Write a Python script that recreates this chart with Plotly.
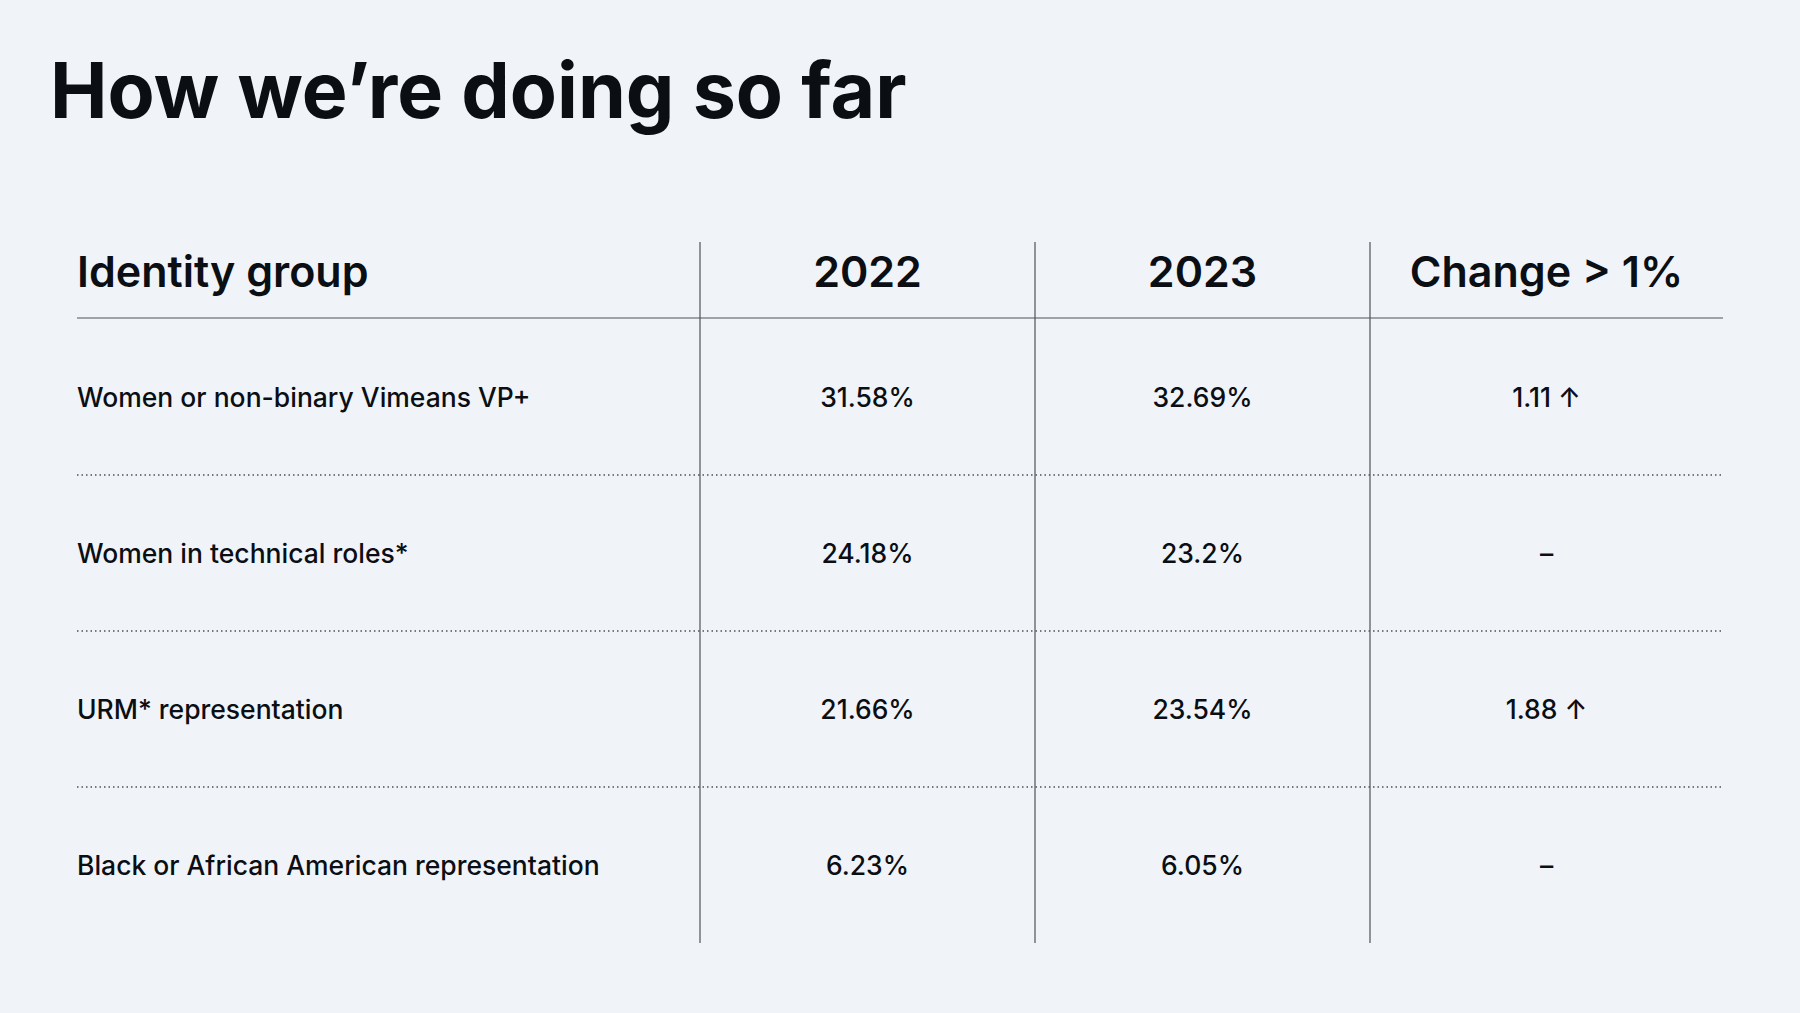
import plotly.graph_objects as go

# ---- data ----
title_text = "How we\u2019re doing so far"
header_labels = ["Identity group", "2022", "2023", "Change > 1%"]
identity_groups = [
    "Women or non-binary Vimeans VP+",
    "Women in technical roles*",
    "URM* representation",
    "Black or African American representation",
]
values_2022 = ["31.58%", "24.18%", "21.66%", "6.23%"]
values_2023 = ["32.69%", "23.2%", "23.54%", "6.05%"]
change_values = ["1.11 \u2191", "\u2013", "1.88 \u2191", "\u2013"]

# ---- layout / style ----
W, H = 1800, 1013
BG = "#f0f4f9"
INK = "#0b0e13"
RULE = "#4d5258"
FONT = "Inter"
col_edges = [77, 700, 1035, 1370, 1723]
header_y = 276
header_rule_y = 318
row0_y = 400
row_step = 156
rule_top, rule_bottom = 242, 943

n_rows = len(identity_groups)
row_centers = [row0_y + i * row_step for i in range(n_rows)]
col_centers = [(col_edges[k] + col_edges[k + 1]) / 2 for k in range(1, 4)]

fig = go.Figure()

body_font = dict(family=FONT, size=26.5, color=INK, weight=500)
head_font = dict(family=FONT, size=43, color=INK, weight=600)

# labels column (left aligned)
fig.add_trace(go.Scatter(
    x=[col_edges[0]] * n_rows, y=row_centers, mode="text",
    text=identity_groups, textposition="middle right",
    textfont=body_font, hoverinfo="skip", showlegend=False,
))
# value columns
for k, vals in enumerate([values_2022, values_2023, change_values]):
    fig.add_trace(go.Scatter(
        x=[col_centers[k]] * n_rows, y=row_centers, mode="text",
        text=vals, textposition="middle center",
        textfont=body_font, hoverinfo="skip", showlegend=False,
    ))
# header
fig.add_trace(go.Scatter(
    x=[col_edges[0]], y=[header_y], mode="text", text=[header_labels[0]],
    textposition="middle right", textfont=head_font,
    hoverinfo="skip", showlegend=False,
))
fig.add_trace(go.Scatter(
    x=col_centers, y=[header_y] * 3, mode="text", text=header_labels[1:],
    textposition="middle center", textfont=head_font,
    hoverinfo="skip", showlegend=False,
))

# rules
shapes = []
shapes.append(dict(type="line", xref="x", yref="y", x0=col_edges[0], x1=col_edges[-1],
                   y0=header_rule_y, y1=header_rule_y, line=dict(color=RULE, width=1.2)))
for i in range(n_rows - 1):
    yy = (row_centers[i] + row_centers[i + 1]) / 2 - 3
    shapes.append(dict(type="line", xref="x", yref="y", x0=col_edges[0], x1=col_edges[-1],
                       y0=yy, y1=yy, line=dict(color=RULE, width=1.5, dash="1.5px,3px")))
for xe in col_edges[1:4]:
    shapes.append(dict(type="line", xref="x", yref="y", x0=xe, x1=xe,
                       y0=rule_top, y1=rule_bottom, line=dict(color=RULE, width=1.2)))

fig.update_layout(
    width=W, height=H,
    margin=dict(l=0, r=0, t=0, b=0),
    paper_bgcolor=BG, plot_bgcolor=BG,
    xaxis=dict(range=[0, W], visible=False, fixedrange=True),
    yaxis=dict(range=[H, 0], visible=False, fixedrange=True),
    shapes=shapes,
    annotations=[dict(
        text=title_text, x=48, y=90, xref="x", yref="y",
        xanchor="left", yanchor="middle", showarrow=False,
        font=dict(family=FONT, size=77, color=INK, weight=700),
    )],
)

fig.write_html(
    "out.html",
    config={"displayModeBar": False},
    post_script="document.body.style.margin='0';document.body.style.background='%s';" % BG,
)
